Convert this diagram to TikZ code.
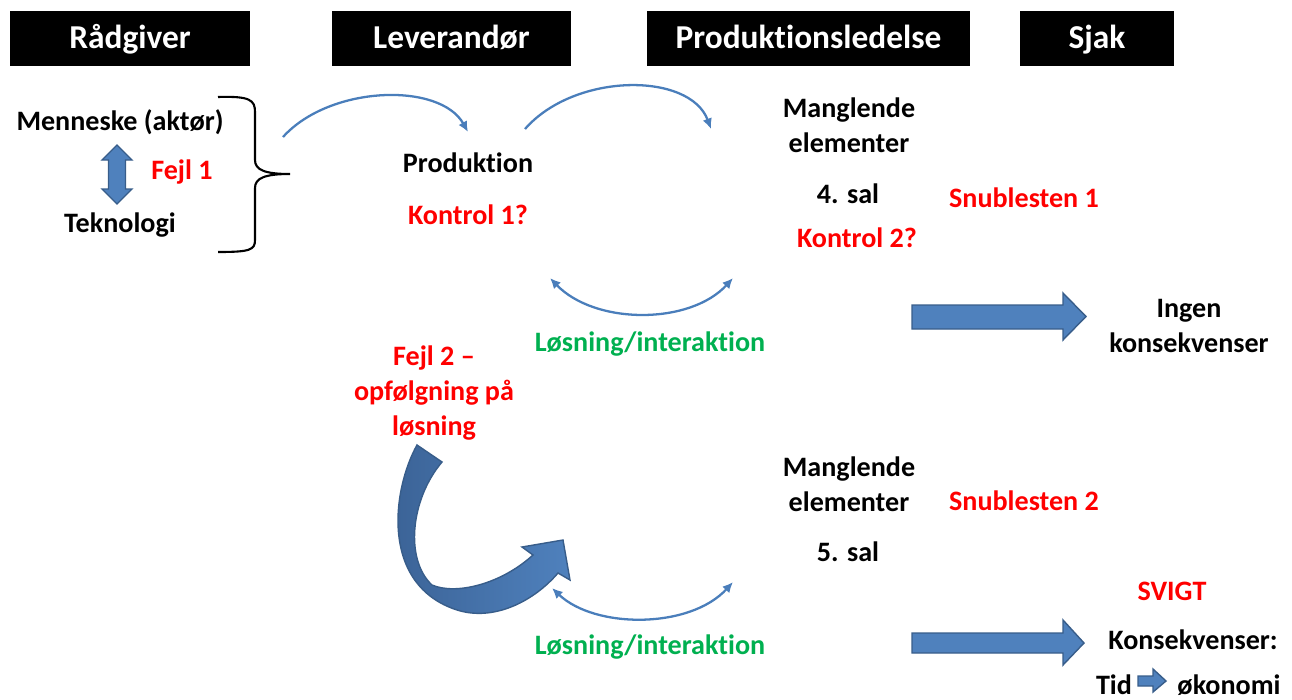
\documentclass[tikz,border=0pt]{standalone}
\usepackage{fontspec}
\setmainfont{Carlito}[Ligatures=NoCommon]
\usepackage{tikz}
\usetikzlibrary{arrows,arrows.meta,positioning,calc}
\definecolor{arcblue}{HTML}{4A7EBB}
\definecolor{fillblue}{HTML}{4F81BD}
\definecolor{darkblue}{HTML}{3A6194}
\definecolor{edgeblue}{HTML}{385D8A}
\definecolor{fejlred}{HTML}{FF0000}
\definecolor{okgreen}{HTML}{00B050}

\begin{document}
\begin{tikzpicture}[
  x=0.02cm, y=-0.02cm,
  hdr/.style={fill=black, text=white, inner sep=0pt, minimum height=1.1cm,
              text height=14pt, text depth=3pt,
              font=\fontsize{19}{23}\selectfont\bfseries},
  txt/.style={anchor=base, align=center, inner sep=0pt,
              font=\fontsize{16}{19.8}\selectfont\bfseries},
  fejl/.style={txt, text=fejlred},
  losn/.style={txt, text=okgreen},
  flow/.style={-{Latex[length=6pt,width=5.5pt]}, line width=1.3pt, draw=arcblue},
  twoway/.style={flow, {Latex[length=6pt,width=5.5pt]}-{Latex[length=6pt,width=5.5pt]}},
  blk/.style={fill=fillblue, draw=edgeblue, line width=0.8pt}
]
\useasboundingbox (0,0) rectangle (1292,700);

% ======= Headers =======
\node[hdr, minimum width=4.8cm]  (hrad)  at (130,38.5)   {Rådgiver};
\node[hdr, minimum width=4.78cm] (hlev)  at (451.5,38.5) {Leverandør};
\node[hdr, minimum width=6.46cm] (hprod) at (808.5,38.5) {Produktionsledelse};
\node[hdr, minimum width=3.08cm] (hsjak) at (1097,38.5)  {Sjak};

% ======= Rådgiver =======
\node[txt]  (menn) at (120,130) {Menneske (aktør)};
\node[fejl] (fejl1) at (182,179) {Fejl 1};
\node[txt]  (tekn) at (120,232) {Teknologi};
\draw[blk] (117,145) -- (132,160) -- (125.5,160) -- (125.5,189) -- (132,189)
  -- (117,204) -- (102,189) -- (108.5,189) -- (108.5,160) -- (102,160) -- cycle;
\draw[line width=1.2pt] (218,97) .. controls (250,96) and (255,100) .. (255,112)
  -- (255,160) .. controls (255,170) and (265,174) .. (290,174)
  .. controls (265,174) and (255,178) .. (255,188)
  -- (255,240) .. controls (255,250) and (250,252) .. (218,252);

% ======= Leverandør / Produktionsledelse, 4. sal =======
\node[txt]  (prodn) at (468,172) {Produktion};
\node[fejl] (kon1)  at (468,224) {Kontrol 1?};
\node[txt]  (mang1) at (849,152) {Manglende\\elementer};
\node[txt]  (sal4)  at (848,203) {4. sal};
\node[fejl] (kon2)  at (857,247) {Kontrol 2?};
\node[fejl] (snub1) at (1024,207) {Snublesten 1};
\node[losn] (los1)  at (650,351) {Løsning/interaktion};

\coordinate (a1s) at (283,137);
\coordinate (a1e) at (468,132);
\coordinate (a2s) at (525,129);
\coordinate (a2e) at (711,129);
\coordinate (l1s) at (550,278);
\coordinate (l1e) at (733,278);
\draw[flow] (a1s) .. controls (330,85) and (440,82) .. (a1e);
\draw[flow] (a2s) .. controls (575,72) and (690,72) .. (a2e);
\draw[twoway] (l1s) .. controls (595,325) and (690,325) .. (l1e);

% ======= Sjak, 4. sal =======
\draw[blk] (912,305) -- (1063,305) -- (1063,293) -- (1086,316.5) -- (1063,340)
  -- (1063,329) -- (912,329) -- cycle;
\node[txt] (ingen) at (1189,352) {Ingen\\konsekvenser};

% ======= Fejl 2 =======
\node[fejl] (fejl2) at (434,435) {Fejl 2 –\\opfølgning på\\løsning};
\shade[draw=edgeblue, line width=0.8pt, left color=darkblue, right color=fillblue]
  (417,445) .. controls (392,490) and (380,585) .. (457,610)
  .. controls (495,622) and (535,600) .. (558,573) -- (570,580) -- (563,540)
  -- (522,547) -- (533,555) .. controls (500,585) and (455,595) .. (432,585)
  .. controls (405,560) and (410,500) .. (442,462) -- cycle;

% ======= 5. sal =======
\node[txt]  (mang2) at (849,511) {Manglende\\elementer};
\node[fejl] (snub2) at (1024,510) {Snublesten 2};
\node[txt]  (sal5)  at (848,561) {5. sal};
\node[losn] (los2)  at (650,654) {Løsning/interaktion};
\coordinate (l2s) at (552,588);
\coordinate (l2e) at (733,582);
\draw[twoway] (l2s) .. controls (595,629) and (690,629) .. (l2e);

% ======= Sjak, 5. sal =======
\draw[blk] (912,633) -- (1063,633) -- (1063,620) -- (1084,643) -- (1063,665)
  -- (1063,653) -- (912,653) -- cycle;
\node[fejl] (svigt) at (1172,600) {SVIGT};
\node[txt]  (konsq) at (1193,649) {Konsekvenser:};
\node[txt]  (tid)   at (1114,694) {Tid};
\node[txt]  (okon)  at (1229,694) {økonomi};
\draw[blk] (1138,676) -- (1153,676) -- (1153,669) -- (1166,681) -- (1153,692)
  -- (1153,686) -- (1138,686) -- cycle;

\end{tikzpicture}
\end{document}
